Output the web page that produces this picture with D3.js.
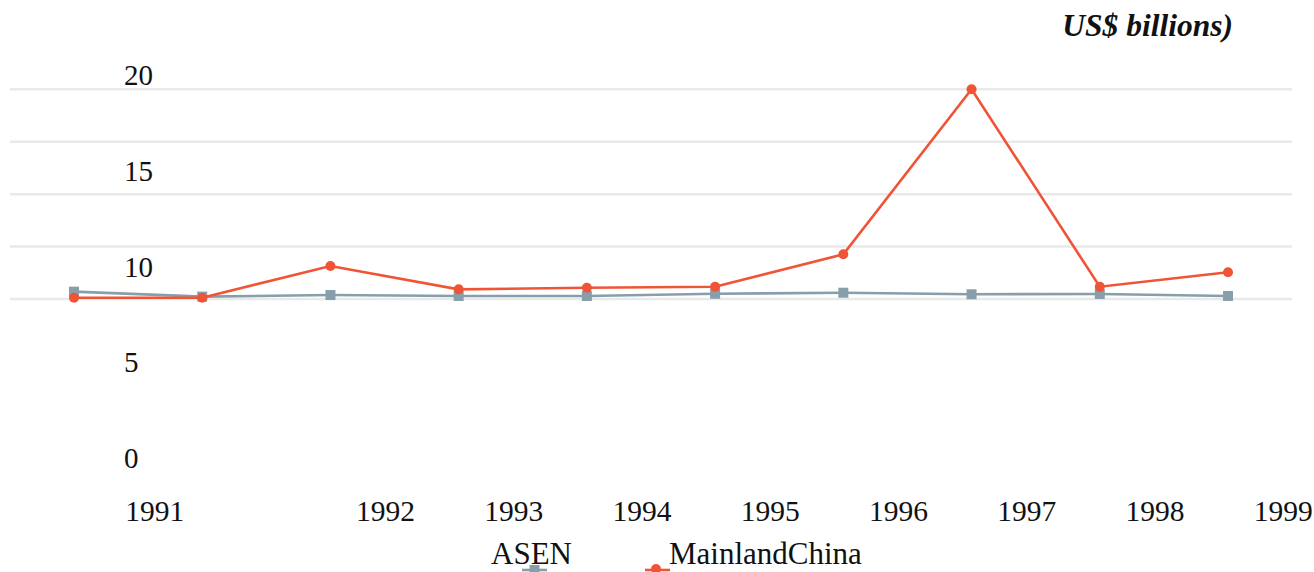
<!DOCTYPE html>
<html>
<head>
<meta charset="utf-8">
<script src="https://cdn.jsdelivr.net/npm/d3@7"></script>
<style>
  html, body { margin: 0; padding: 0; background: #ffffff; }
  svg { display: block; font-family: "Liberation Serif", "Times New Roman", serif; }
</style>
</head>
<body>
<svg id="chart" width="1314" height="572"></svg>
<script>
// ---- data ----
const seriesNames = ["ASEN", "MainlandChina"];
const pointIndex = [0, 1, 2, 3, 4, 5, 6, 7, 8, 9];
const asenValues = [0.70, 0.23, 0.38, 0.29, 0.29, 0.50, 0.60, 0.45, 0.48, 0.29];
const chinaValues = [0.12, 0.12, 3.15, 0.92, 1.08, 1.17, 4.26, 20.0, 1.17, 2.55];
const yearLabels = ["1991", "1992", "1993", "1994", "1995", "1996", "1997", "1998", "1999"];
const yearLabelSlots = [0.63, 2.43, 3.43, 4.43, 5.43, 6.43, 7.43, 8.43, 9.43];
const yTicks = [0, 5, 10, 15, 20];
const unitTitle = "US$ billions)";

// ---- setup ----
const svg = d3.select("#chart");
const colors = { ASEN: "#879fab", MainlandChina: "#f05436" };

const x = d3.scaleLinear().domain([0, 9]).range([74, 1228]);
const yGrid = d3.scaleLinear().domain([0, 20]).range([299, 89.3]);
const yLabel = d3.scaleLinear().domain([0, 20]).range([468, 85]);

// gridlines
svg.append("g").selectAll("line")
  .data(yTicks).join("line")
  .attr("x1", 10).attr("x2", 1292)
  .attr("y1", d => yGrid(d)).attr("y2", d => yGrid(d))
  .attr("stroke", "#e8e9e9").attr("stroke-width", 2.5);

// y labels (offset from grid, as in reference)
svg.append("g").selectAll("text")
  .data(yTicks).join("text")
  .attr("x", 124).attr("y", d => yLabel(d))
  .attr("font-size", 29).attr("fill", "#111")
  .text(d => d);

// x labels
svg.append("g").selectAll("text")
  .data(yearLabels).join("text")
  .attr("x", (d, i) => x(yearLabelSlots[i])).attr("y", 521)
  .attr("text-anchor", "middle")
  .attr("font-size", 29.5).attr("fill", "#111")
  .text(d => d);

// unit title
svg.append("text")
  .attr("x", 1233).attr("y", 36)
  .attr("text-anchor", "end")
  .attr("font-size", 31.5).attr("font-weight", "bold").attr("font-style", "italic")
  .attr("fill", "#111")
  .text(unitTitle);

const line = d3.line().x(d => x(d.i)).y(d => yGrid(d.v));

function drawSeries(name, values, shape) {
  const data = pointIndex.map((i, k) => ({ i, v: values[k] }));
  const g = svg.append("g");
  g.append("path").datum(data)
    .attr("d", line).attr("fill", "none")
    .attr("stroke", colors[name]).attr("stroke-width", 2.6);
  if (shape === "square") {
    g.selectAll("rect").data(data).join("rect")
      .attr("x", d => x(d.i) - 5).attr("y", d => yGrid(d.v) - 5)
      .attr("width", 10).attr("height", 10)
      .attr("fill", colors[name]);
  } else {
    g.selectAll("circle").data(data).join("circle")
      .attr("cx", d => x(d.i)).attr("cy", d => yGrid(d.v))
      .attr("r", 5).attr("fill", colors[name]);
  }
}
drawSeries("ASEN", asenValues, "square");
drawSeries("MainlandChina", chinaValues, "circle");

// legend
const legend = [
  { name: "ASEN", lx: 522, tx: 491, shape: "square" },
  { name: "MainlandChina", lx: 645, tx: 669, shape: "circle" }
];
legend.forEach(l => {
  const g = svg.append("g");
  g.append("text").attr("x", l.tx).attr("y", 564)
    .attr("font-size", 31).attr("fill", "#111").text(l.name);
  g.append("line").attr("x1", l.lx).attr("x2", l.lx + 25)
    .attr("y1", 570).attr("y2", 570)
    .attr("stroke", colors[l.name]).attr("stroke-width", 2.6);
  if (l.shape === "square") {
    g.append("rect").attr("x", l.lx + 12.5 - 5).attr("y", 565)
      .attr("width", 10).attr("height", 10).attr("fill", colors[l.name]);
  } else {
    g.append("circle").attr("cx", l.lx + 11).attr("cy", 569)
      .attr("r", 5).attr("fill", colors[l.name]);
  }
});
</script>
</body>
</html>
